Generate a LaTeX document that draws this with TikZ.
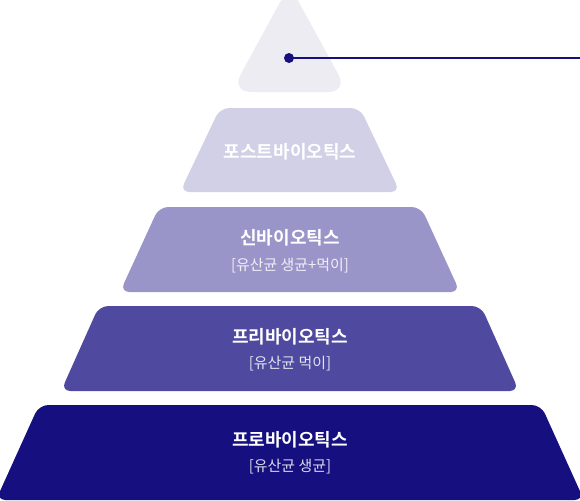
\documentclass[tikz,border=0pt]{standalone}
\usepackage{fontspec}
\setmainfont{Noto Sans CJK KR}[BoldFont={Noto Sans CJK KR Bold}]
\definecolor{tipgray}{HTML}{EDECF3}
\definecolor{postlav}{HTML}{D2D0E6}
\definecolor{synlav}{HTML}{9A95C9}
\definecolor{prepurple}{HTML}{4F4A9F}
\definecolor{pronavy}{HTML}{150F80}

\begin{document}
\begin{tikzpicture}[x=0.75pt,y=-0.75pt,
  tier/.style={rounded corners=7pt},
  title/.style={text=white,font=\bfseries\fontsize{13.5}{16}\selectfont},
  sub/.style={text=white,text opacity=0.85,font=\fontsize{11.2}{13}\selectfont}]
\useasboundingbox (0,0) rectangle (580,500);

\fill[tipgray,rounded corners=15pt] (289.5,-15) -- (348,92) -- (231,92) -- cycle;
\fill[postlav,tier] (220,108) -- (360,108) -- (400,192) -- (180,192) -- cycle;
\fill[synlav,tier] (159,207) -- (421,207) -- (460,292) -- (120,292) -- cycle;
\fill[prepurple,tier] (99,306) -- (481,306) -- (519,391) -- (61,391) -- cycle;
\fill[pronavy,tier] (39,405) -- (541,405) -- (584,500) -- (-4,500) -- cycle;

\node[title] (posttitle) at (290,152) {포스트바이오틱스};
\node[title] (syntitle) at (290,238) {신바이오틱스};
\node[sub] (synsub) at (290,266) {[유산균 생균+먹이]};
\node[title] (pretitle) at (290,337) {프리바이오틱스};
\node[sub] (presub) at (290,364) {[유산균 먹이]};
\node[title] (protitle) at (290,440) {프로바이오틱스};
\node[sub] (prosub) at (290,467) {[유산균 생균]};

\coordinate (dot) at (289,58);
\coordinate (lineend) at (580,58);
\draw[pronavy,line width=1.5pt] (dot) -- (lineend);
\fill[pronavy] (dot) circle (3.75pt);
\end{tikzpicture}
\end{document}
